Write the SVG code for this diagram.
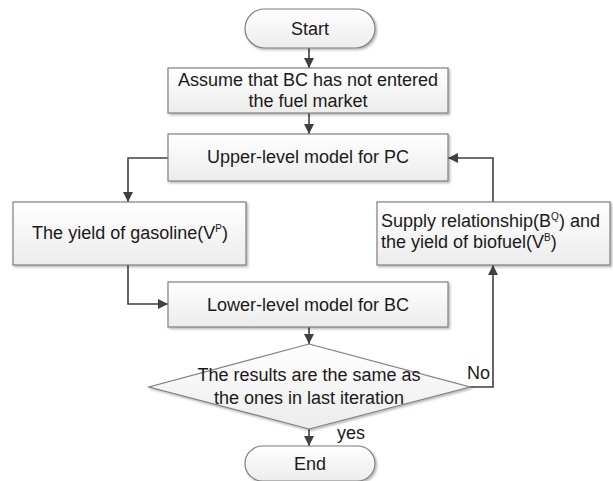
<svg xmlns="http://www.w3.org/2000/svg" width="613" height="481" viewBox="0 0 613 481">
<defs>
<linearGradient id="g" x1="0" y1="0" x2="0" y2="1">
<stop offset="0" stop-color="#ffffff"/>
<stop offset="1" stop-color="#ececec"/>
</linearGradient>
<filter id="sh" x="-10%" y="-10%" width="120%" height="130%">
<feDropShadow dx="1.5" dy="1.5" stdDeviation="1" flood-color="#000" flood-opacity="0.3"/>
</filter>
<marker id="ah" viewBox="0 0 10 10" refX="10" refY="5" markerWidth="10" markerHeight="10" markerUnits="userSpaceOnUse" orient="auto">
<path d="M0,0 L10,5 L0,10 z" fill="#404040"/>
</marker>
</defs>
<style>
.n{fill:url(#g);stroke:#7f7f7f;stroke-width:1.2;filter:url(#sh)}
.t{font-family:"Liberation Sans",Arial,sans-serif;font-size:18px;fill:#1a1a1a;text-anchor:middle}
.l{text-anchor:start}
.sup{font-size:10px}
.c{fill:none;stroke:#404040;stroke-width:1.6;marker-end:url(#ah)}
</style>
<g id="connectors">
<path class="c" d="M309,48 V68"/>
<path class="c" d="M309,113 V134"/>
<path class="c" d="M168,158 H128 V202"/>
<path class="c" d="M128,265 V304 H168"/>
<path class="c" d="M309,327 V344"/>
<path class="c" d="M470,387 H493 V265"/>
<path class="c" d="M493,202 V158 H448"/>
<path class="c" d="M309,429 V446"/>
</g>
<g id="start">
<rect class="n" x="245" y="9" width="130" height="39" rx="19.5"/>
<text class="t" x="310" y="35">Start</text>
</g>
<g id="assume">
<rect class="n" x="168" y="68" width="280" height="45"/>
<text class="t" x="308" y="86">Assume that BC has not entered</text>
<text class="t" x="308" y="107">the fuel market</text>
</g>
<g id="upper">
<rect class="n" x="168" y="134" width="280" height="47"/>
<text class="t" x="308" y="163">Upper-level model for PC</text>
</g>
<g id="gasoline">
<rect class="n" x="13" y="202" width="233" height="63"/>
<text class="t" x="130" y="239">The yield of gasoline(V<tspan class="sup" dy="-7">P</tspan><tspan dy="7">)</tspan></text>
</g>
<g id="supply">
<rect class="n" x="377" y="202" width="233" height="63"/>
<text class="t l" x="381" y="227">Supply relationship(B<tspan class="sup" dy="-7">Q</tspan><tspan dy="7">) and</tspan></text>
<text class="t l" x="381" y="248">the yield of biofuel(V<tspan class="sup" dy="-7">B</tspan><tspan dy="7">)</tspan></text>
</g>
<g id="lower">
<rect class="n" x="168" y="282" width="280" height="45"/>
<text class="t" x="308" y="311">Lower-level model for BC</text>
</g>
<g id="decision">
<path class="n" d="M309,344 L470,387 L309,429 L149,387 Z"/>
<text class="t" x="309" y="381">The results are the same as</text>
<text class="t" x="309" y="404">the ones in last iteration</text>
<text class="t l" x="467" y="379">No</text>
<text class="t l" x="337" y="439">yes</text>
</g>
<g id="end">
<rect class="n" x="245" y="446" width="130" height="35" rx="17.5"/>
<text class="t" x="310" y="470">End</text>
</g>
</svg>
